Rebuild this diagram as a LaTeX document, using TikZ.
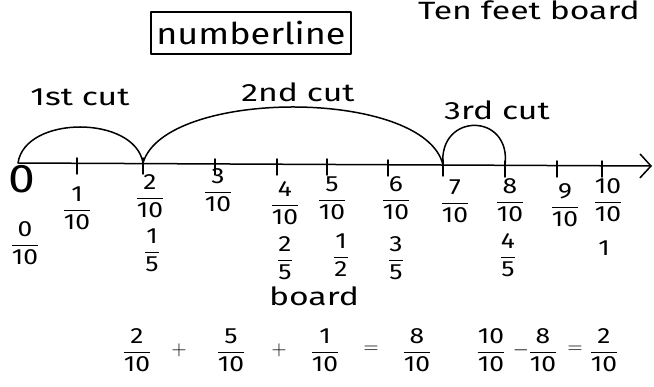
\documentclass[tikz,border=0pt]{standalone}
\usepackage{fontspec}
\setmainfont[FakeStretch=1.2]{Fira Sans}
\newfontfamily\widefont[FakeStretch=1.35]{Fira Sans}
\usetikzlibrary{arrows.meta}
\newcommand{\fr}[2]{$\displaystyle\frac{\mbox{#1}}{\mbox{#2}}$}
\begin{document}
\begin{tikzpicture}[x=1pt,y=-1pt,
  hand/.style={line width=1.5pt,line cap=round,line join=round},
  lbl/.style={font=\fontsize{22}{24}\selectfont,inner sep=0pt},
  word/.style={font=\widefont\fontsize{25}{27}\selectfont,inner sep=0pt}]
  \fill[white] (0,0) rectangle (654,387);
  \useasboundingbox (0,0) rectangle (654,387);
  % heading
  \node[draw,hand,font=\fontsize{30}{32}\selectfont,minimum width=200pt,minimum height=42pt,inner sep=0pt] (title) at (251,33) {numberline};
  \node[word,anchor=base west] (head) at (418,20) {Ten feet board};
  % number line
  \foreach \i/\x/\y in {0/18/163, 1/77/163, 2/143/163, 3/215/164, 4/277/164, 5/327/164, 6/388/165, 7/443/165, 8/505/166, 9/557/166, 10/602/166} {
    \coordinate (t\i) at (\x,\y);
  }
  \coordinate (tip) at (652,166);
  \draw[hand,-{Straight Barb[length=11pt,width=24pt]}] (t0) -- (tip);
  \foreach \i in {1,...,10} {
    \draw[hand] ([yshift=-11pt]t\i) -- ([yshift=5pt]t\i);
  }
  \node[font=\fontsize{40}{40}\selectfont,inner sep=0pt] (zero) at (22,179) {0};
  % cuts
  \draw[hand] (t0) .. controls (25,115) and (135,115) .. (t2);
  \draw[hand] (t2) .. controls (165,88) and (425,88) .. (t7);
  \draw[hand] (t7) .. controls (438,112) and (512,112) .. (t8);
  \node[word] (cut1) at (80,97) {1st cut};
  \node[word] (cut2) at (298,92) {2nd cut};
  \node[word] (cut3) at (497,110) {3rd cut};
  % tenths
  \foreach \i/\x/\y in {1/77/208, 2/150/196, 3/218/190, 4/285/203, 5/332/198, 6/396/198, 7/455/201, 8/510/200, 9/565/205, 10/608/200} {
    \node[lbl] (a\i) at (\x,\y) {\fr{\i}{10}};
  }
  % equivalent fractions
  \foreach \n/\x/\y/\t in {b0/25/243/{\fr{0}{10}}, b2/152/250/{\fr{1}{5}}, b4/285/258/{\fr{2}{5}}, b5/341/255/{\fr{1}{2}}, b6/396/258/{\fr{3}{5}}, b8/508/255/{\fr{4}{5}}, b10/604/248/{1}} {
    \node[lbl] (\n) at (\x,\y) {\t};
  }
  \node[word] (board) at (314,296) {board};
  % sums
  \foreach \n/\x/\t in {e1/137/{\fr{2}{10}}, e2/179/{$+$}, e3/231/{\fr{5}{10}}, e4/279/{$+$}, e5/325/{\fr{1}{10}}, e6/371/{$=$}, e7/417/{\fr{8}{10}}, e8/491/{\fr{10}{10}}, e9/521/{$-$}, e10/543/{\fr{8}{10}}, e11/575/{$=$}, e12/604/{\fr{2}{10}}} {
    \node[lbl] (\n) at (\x,350) {\t};
  }
\end{tikzpicture}
\end{document}
